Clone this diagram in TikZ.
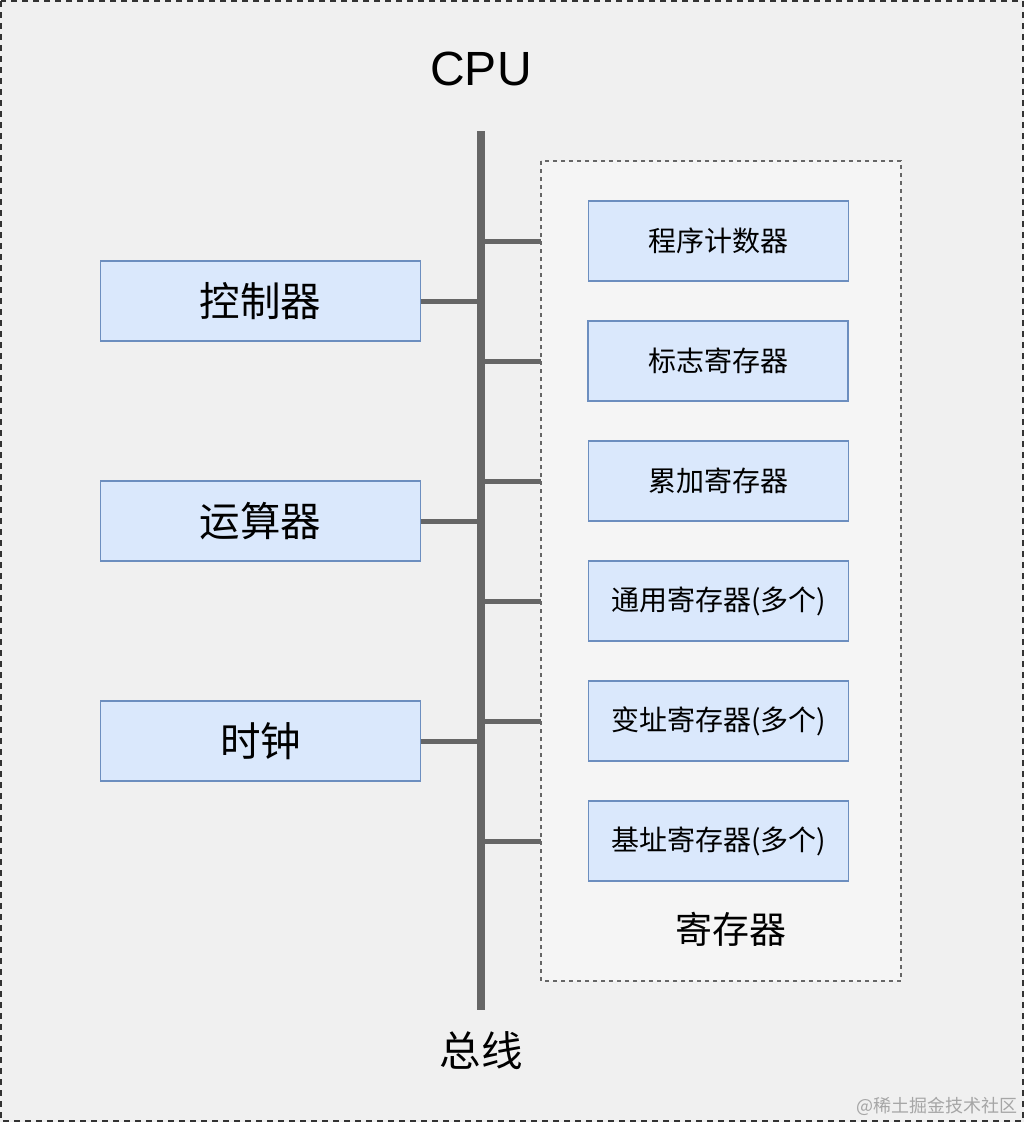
\documentclass[tikz,border=0pt]{standalone}
\usepackage{fontspec}
\setmainfont{Liberation Sans}
\newfontfamily\cjk{Noto Sans CJK SC}
\begin{document}
\begin{tikzpicture}[x=1pt,y=-1pt,
  blk/.style={draw=blkline,fill=blkfill,line width=1.5pt,minimum width=320pt,minimum height=80pt,inner sep=0pt,font=\cjk\fontsize{40.5}{40.5}\selectfont},
  reg/.style={draw=blkline,fill=blkfill,line width=1.5pt,minimum width=260pt,minimum height=80pt,inner sep=0pt,font=\cjk\fontsize{28}{28}\selectfont},
  stub/.style={draw=busgray,line width=5pt},
  lbl/.style={inner sep=0pt,font=\cjk\fontsize{37}{37}\selectfont}]
\definecolor{bg}{HTML}{F0F0F0}
\definecolor{regbg}{HTML}{F5F5F5}
\definecolor{blkfill}{HTML}{DAE8FC}
\definecolor{blkline}{HTML}{6C8EBF}
\definecolor{busgray}{HTML}{666666}
\useasboundingbox (0,0) rectangle (1024,1122);
\fill[bg] (0,0) rectangle (1024,1122);
\draw[draw=black!80,line width=2pt,dash pattern=on 6pt off 5pt] (1,1) rectangle (1023,1121);
% register group
\draw[fill=regbg,draw=busgray,line width=1.5pt,dash pattern=on 4pt off 4pt] (541,161) rectangle (901,981);
\coordinate (rg) at (541,161);
% bus
\coordinate (bt) at (481,131);
\coordinate (bb) at (481,1010);
% left blocks
\node[blk] (c1) at (260.5,301) {控制器};
\node[blk] (c2) at (260.5,521) {运算器};
\node[blk] (c3) at (260.5,741) {时钟};
% registers
\node[reg] (r1) at (718.5,241) {程序计数器};
\node[reg] (r2) at (718,361) {标志寄存器};
\node[reg] (r3) at (718.5,481) {累加寄存器};
\node[reg] (r4) at (718.5,601) {通用寄存器(多个)};
\node[reg] (r5) at (718.5,721) {变址寄存器(多个)};
\node[reg] (r6) at (718.5,841) {基址寄存器(多个)};
% stubs
\foreach \c in {c1,c2,c3} \draw[stub] (\c.east) -- (\c.east -| bt);
\foreach \r in {r1,r2,r3,r4,r5,r6}
  \draw[stub] (\r.west -| bt) -- (\r.west -| rg);
\draw[draw=busgray,line width=8pt] (bt) -- (bb);
% labels
\node[inner sep=0pt,font=\fontsize{48}{48}\selectfont] (cpu) at (481,69) {CPU};
\node[inner sep=0pt,font=\cjk\fontsize{41.5}{41.5}\selectfont] (bus) at (481,1051) {总线};
\node[lbl] (regl) at (731,929) {寄存器};
\node[inner sep=0pt,anchor=east,text=black!35,font=\cjk\fontsize{18}{18}\selectfont] (wm) at (1018,1106) {@稀土掘金技术社区};
\end{tikzpicture}
\end{document}
